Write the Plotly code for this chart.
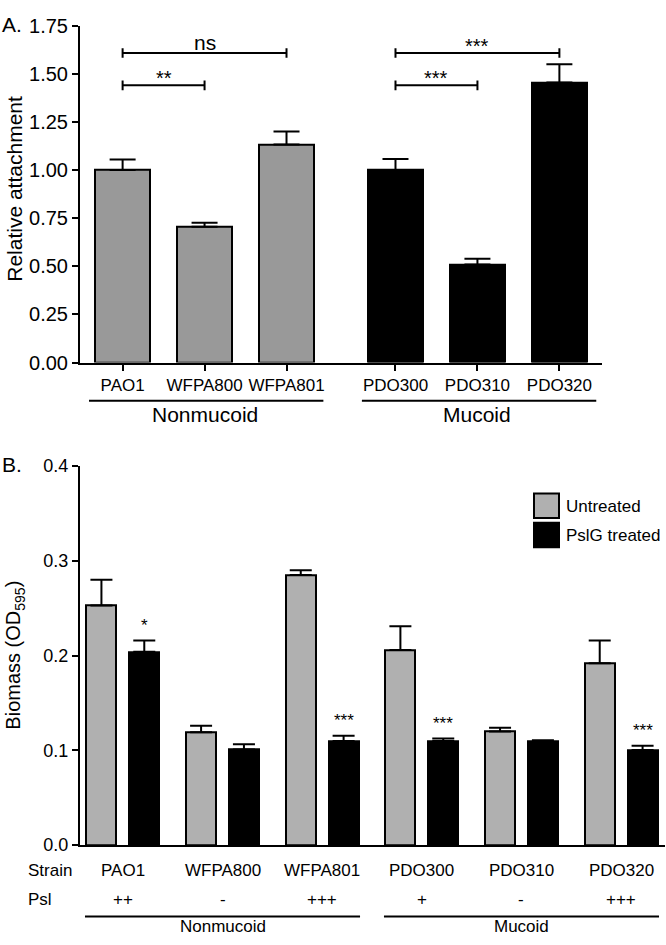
import plotly.graph_objects as go

W, H = 666, 945
FONT = "Liberation Sans, Arial, Helvetica, sans-serif"

# ---------------- Panel A data ----------------
a_strains = ["PAO1", "WFPA800", "WFPA801", "PDO300", "PDO310", "PDO320"]
a_pos = [0, 1, 2, 3.33, 4.33, 5.33]
a_values = [1.00, 0.705, 1.133, 1.00, 0.51, 1.455]
a_errors = [0.055, 0.022, 0.067, 0.057, 0.030, 0.095]
a_colors = ["#999999", "#999999", "#999999", "#000000", "#000000", "#000000"]
a_yticks = [0, 0.25, 0.5, 0.75, 1.0, 1.25, 1.5, 1.75]
# significance brackets: (from index, to index, y level, label)
a_sig = [(0, 2, 1.608, "ns"), (0, 1, 1.44, "**"), (3, 5, 1.608, "***"), (3, 4, 1.44, "***")]

# ---------------- Panel B data ----------------
b_strains = ["PAO1", "WFPA800", "WFPA801", "PDO300", "PDO310", "PDO320"]
b_psl = ["++", "-", "+++", "+", "-", "+++"]
b_untreated = [0.253, 0.119, 0.285, 0.206, 0.120, 0.192]
b_untreated_err = [0.027, 0.007, 0.005, 0.025, 0.004, 0.024]
b_treated = [0.204, 0.101, 0.110, 0.110, 0.110, 0.1005]
b_treated_err = [0.012, 0.0055, 0.0055, 0.0025, 0.0007, 0.0045]
b_sig = ["*", "", "***", "***", "", "***"]
b_series = ["Untreated", "PslG treated"]
b_yticks = [0.0, 0.1, 0.2, 0.3, 0.4]
groups = ["Nonmucoid", "Mucoid"]


def px_x(p):
    return p / W


def px_y(p):
    return 1 - p / H


fig = go.Figure()

# Panel A bars
fig.add_trace(go.Bar(
    x=a_pos, y=a_values, width=0.68,
    marker=dict(color=a_colors, line=dict(color="black", width=2)),
    error_y=dict(type="data", symmetric=False, array=a_errors,
                 arrayminus=[0] * len(a_errors), thickness=2, width=13, color="black"),
    xaxis="x", yaxis="y", showlegend=False,
))

# Panel B bars
bx = list(range(len(b_strains)))
fig.add_trace(go.Bar(
    x=bx, y=b_untreated, width=0.30, offset=-0.365, name=b_series[0],
    marker=dict(color="#b0b0b0", line=dict(color="black", width=2)),
    error_y=dict(type="data", symmetric=False, array=b_untreated_err,
                 arrayminus=[0] * len(bx), thickness=2, width=11, color="black"),
    xaxis="x2", yaxis="y2", showlegend=False,
))
fig.add_trace(go.Bar(
    x=bx, y=b_treated, width=0.30, offset=0.065, name=b_series[1],
    marker=dict(color="#000000", line=dict(color="black", width=2)),
    error_y=dict(type="data", symmetric=False, array=b_treated_err,
                 arrayminus=[0] * len(bx), thickness=2, width=11, color="black"),
    xaxis="x2", yaxis="y2", showlegend=False,
))

shapes = []
ann = []

# Significance brackets panel A
tick_h = 0.025
for i0, i1, yv, lab in a_sig:
    x0, x1 = a_pos[i0], a_pos[i1]
    shapes.append(dict(type="line", xref="x", yref="y", x0=x0, x1=x1, y0=yv, y1=yv,
                       line=dict(color="black", width=2)))
    for xx in (x0, x1):
        shapes.append(dict(type="line", xref="x", yref="y", x0=xx, x1=xx,
                           y0=yv - tick_h, y1=yv + tick_h, line=dict(color="black", width=2)))
    ty = yv + (0.056 if lab == "ns" else 0.036)
    ann.append(dict(x=(x0 + x1) / 2, y=ty, xref="x", yref="y", text=lab, showarrow=False,
                    font=dict(size=21 if lab == "ns" else 20, color="black"), yanchor="middle"))

# Group underlines panel A
a_groups = [(0, 2), (3, 5)]
for g, (i0, i1) in zip(groups, a_groups):
    shapes.append(dict(type="line", xref="x", yref="paper", x0=a_pos[i0] - 0.41, x1=a_pos[i1] + 0.45,
                       y0=px_y(399), y1=px_y(399), line=dict(color="black", width=2)))
    ann.append(dict(x=a_pos[i0 + 1], y=px_y(413), xref="x", yref="paper", text=g, showarrow=False,
                    font=dict(size=21, color="black"), yanchor="middle"))

# Panel labels and axis titles
ann.append(dict(x=0, y=px_y(14), xref="paper", yref="paper", text="A.", showarrow=False,
                xanchor="left", yanchor="middle", font=dict(size=21, color="black")))
ann.append(dict(x=0, y=px_y(464), xref="paper", yref="paper", text="B.", showarrow=False,
                xanchor="left", yanchor="middle", font=dict(size=21, color="black")))
ann.append(dict(x=px_x(15), y=px_y(182), xref="paper", yref="paper", text="Relative attachment",
                showarrow=False, textangle=-90, xanchor="center", yanchor="middle",
                font=dict(size=21, color="black")))
ann.append(dict(x=px_x(15), y=px_y(660), xref="paper", yref="paper", text="Biomass (OD<sub>595</sub>)",
                showarrow=False, textangle=-90, xanchor="center", yanchor="middle",
                font=dict(size=20, color="black")))

# Panel B significance stars
for i, s in enumerate(b_sig):
    if s:
        ann.append(dict(x=i + 0.215, y=b_treated[i] + b_treated_err[i] + 0.016, xref="x2", yref="y2",
                        text=s, showarrow=False, font=dict(size=17, color="black"), yanchor="middle"))

# Panel B row labels
ann.append(dict(x=px_x(26), y=px_y(880), xref="paper", yref="paper", text="Strain", showarrow=False,
                xanchor="left", yanchor="middle", font=dict(size=17, color="black")))
ann.append(dict(x=px_x(26), y=px_y(910), xref="paper", yref="paper", text="Psl", showarrow=False,
                xanchor="left", yanchor="middle", font=dict(size=17, color="black")))
for i, (s, p) in enumerate(zip(b_strains, b_psl)):
    ann.append(dict(x=i, y=px_y(880), xref="x2", yref="paper", text=s, showarrow=False,
                    yanchor="middle", font=dict(size=17, color="black")))
    ann.append(dict(x=i, y=px_y(910), xref="x2", yref="paper", text=p, showarrow=False,
                    yanchor="middle", font=dict(size=17, color="black")))
b_groups = [(0, 2), (3, 5)]
for g, (i0, i1) in zip(groups, b_groups):
    shapes.append(dict(type="line", xref="x2", yref="paper", x0=i0 - 0.38, x1=i1 + 0.38,
                       y0=px_y(927), y1=px_y(927), line=dict(color="black", width=2)))
    ann.append(dict(x=i0 + 1, y=px_y(937), xref="x2", yref="paper", text=g, showarrow=False,
                    yanchor="middle", font=dict(size=17, color="black")))

# Legend panel B (drawn manually)
leg_colors = ["#b0b0b0", "#000000"]
leg_tops = [494, 524]
for name, col, top in zip(b_series, leg_colors, leg_tops):
    shapes.append(dict(type="rect", xref="paper", yref="paper", x0=px_x(534), x1=px_x(559),
                       y0=px_y(top), y1=px_y(top + 25), fillcolor=col,
                       line=dict(color="black", width=2)))
    ann.append(dict(x=px_x(564), y=px_y(top + 13), xref="paper", yref="paper", text=name,
                    showarrow=False, xanchor="left", yanchor="middle",
                    font=dict(size=17, color="black")))

axis_common = dict(showline=True, linewidth=2, linecolor="black", showgrid=False, zeroline=False,
                   ticks="outside", ticklen=6, tickwidth=2, tickcolor="black")

fig.update_layout(
    width=W, height=H, margin=dict(l=0, r=0, t=0, b=0),
    paper_bgcolor="white", plot_bgcolor="white",
    font=dict(family=FONT, color="black"),
    bargap=0,
    xaxis=dict(domain=[px_x(80), px_x(602)], anchor="y", range=[-0.52, 5.85],
               tickvals=a_pos, ticktext=a_strains, tickfont=dict(size=17, color="black"),
               **axis_common),
    yaxis=dict(domain=[px_y(360), px_y(15)], anchor="x", range=[0, 1.75],
               tickvals=a_yticks, tickformat=".2f", tickfont=dict(size=20, color="black"),
               **axis_common),
    xaxis2=dict(domain=[px_x(80), px_x(665)], anchor="y2", range=[-0.43, 5.44],
                showline=True, linewidth=2, linecolor="black", showgrid=False, zeroline=False,
                showticklabels=False, ticks=""),
    yaxis2=dict(domain=[px_y(854), px_y(466)], anchor="x2", range=[0, 0.4],
                tickvals=b_yticks, tickformat=".1f", tickfont=dict(size=18, color="black"),
                **axis_common),
    shapes=shapes, annotations=ann,
)

fig.write_html("out.html", config={"displayModeBar": False},
               post_script="document.body.style.margin='0';document.documentElement.style.overflow='hidden';")
